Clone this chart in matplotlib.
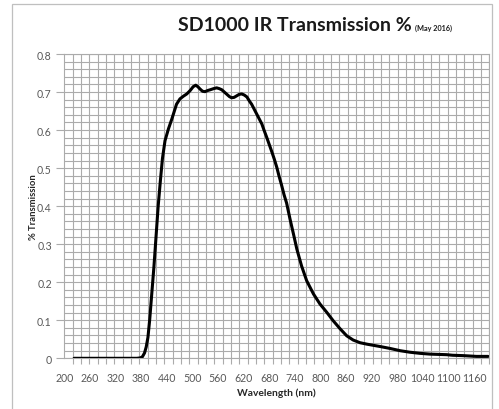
import numpy as np
import matplotlib
matplotlib.use("Agg")
import matplotlib.pyplot as plt
from matplotlib.patches import Rectangle

# wavelength (nm) and transmission
wavelength = [223, 300, 370, 378, 383, 388, 392, 396, 400, 405, 410, 415, 420, 425,
              430, 436, 444, 452, 463, 471, 479, 487, 495, 502, 508, 513, 518, 524, 530,
              536, 542, 550, 557, 563, 569, 575, 581, 587, 592, 598, 604, 610, 616, 622,
              628, 634, 639, 645, 651, 657, 663, 668, 674, 680, 686, 692, 698, 703, 709,
              715, 721, 729, 737, 745, 756, 768, 784, 799, 815, 830, 846, 862, 877, 893,
              910, 940, 963, 987, 1010, 1034, 1057, 1096, 1110, 1135, 1166, 1193]
transmission = [0.0, 0.0, 0.0, 0.001, 0.004, 0.014, 0.03, 0.055, 0.10, 0.17, 0.24, 0.32,
                0.40, 0.465, 0.525, 0.572, 0.603, 0.629, 0.668, 0.682, 0.689, 0.695,
                0.704, 0.714, 0.718, 0.714, 0.708, 0.702, 0.701, 0.704, 0.706, 0.709, 0.711,
                0.709, 0.706, 0.700, 0.694, 0.688, 0.685, 0.686, 0.690, 0.694, 0.695, 0.692,
                0.687, 0.676, 0.668, 0.655, 0.642, 0.629, 0.616, 0.600, 0.582, 0.563, 0.544,
                0.524, 0.502, 0.480, 0.456, 0.430, 0.408, 0.366, 0.327, 0.287, 0.243, 0.204,
                0.169, 0.143, 0.121, 0.099, 0.078, 0.059, 0.048, 0.041, 0.037, 0.031, 0.026,
                0.020, 0.016, 0.013, 0.011, 0.0095, 0.008, 0.007, 0.005, 0.005]

x_labels = [200, 260, 320, 380, 440, 500, 560, 620, 680, 740, 800, 860, 920, 980, 1040, 1100, 1160]
y_ticks = [0, 0.1, 0.2, 0.3, 0.4, 0.5, 0.6, 0.7, 0.8]
y_labels = ["0", "0.1", "0.2", "0.3", "0.4", "0.5", "0.6", "0.7", "0.8"]

XMIN, XMAX = 200, 1196
GRID = "#ababab"
TXT = "#595959"
FONT = "Lato"

fig = plt.figure(figsize=(4.99, 4.10), dpi=100)
fig.patches.append(Rectangle((12 / 499, -0.1), (492 - 12) / 499, 1.1 - 5 / 410,
                             transform=fig.transFigure, fill=False,
                             edgecolor="#bfbfbf", linewidth=0.9))
ax = fig.add_axes([64.3 / 499, 1 - 359.3 / 410, 425 / 499, 304.3 / 410])

ax.plot(wavelength, transmission, color="black", linewidth=2.2, solid_capstyle="round",
        solid_joinstyle="round", zorder=3)

ax.set_xlim(XMIN, XMAX)
ax.set_ylim(0, 0.8)

# category-style axis: labels every 60, grid/ticks on a finer spacing
ax.set_xticks(x_labels)
ax.set_xticklabels([str(v) for v in x_labels])
ax.set_xticks(np.linspace(XMIN, XMAX, 52), minor=True)
ax.set_yticks(y_ticks)
ax.set_yticklabels(y_labels)
ax.set_yticks(np.arange(0, 0.81, 0.02), minor=True)

ax.tick_params(axis="x", which="major", length=0, pad=10, labelsize=7.6, labelcolor=TXT)
ax.tick_params(axis="x", which="minor", length=4, width=0.8, color=GRID, direction="out")
ax.tick_params(axis="y", which="major", length=6, width=0.8, color=GRID, pad=3,
               labelsize=7.6, labelcolor=TXT)
ax.tick_params(axis="y", which="minor", length=0)
for lab in ax.get_xticklabels() + ax.get_yticklabels():
    lab.set_fontfamily(FONT)

ax.grid(True, axis="x", which="minor", color=GRID, linewidth=0.8)
ax.grid(True, axis="y", which="both", color=GRID, linewidth=0.8)
ax.set_axisbelow(True)
for s in ax.spines.values():
    s.set_color(GRID)
    s.set_linewidth(0.8)

ax.set_xlabel("Wavelength (nm)", fontfamily=FONT, fontweight="bold", fontsize=7.4,
              color="#262626", va="center")
ax.xaxis.set_label_coords(0.5, (359.3 - 393) / 304.3)
ax.set_ylabel("% Transmission", fontfamily=FONT, fontweight="bold", fontsize=6.8,
              color="#262626", va="center")
ax.yaxis.set_label_coords((33 - 64.3) / 425, (359.3 - 207) / 304.3)

fig.text(412 / 499, 1 - 31 / 410, "SD1000 IR Transmission %", ha="right", va="baseline",
         fontfamily=FONT, fontweight="bold", fontsize=14, color="#1a1a1a")
fig.text(415 / 499, 1 - 31 / 410, "(May 2016)", ha="left", va="baseline",
         fontfamily=FONT, fontweight="bold", fontsize=5.2, color="#1a1a1a")

fig.savefig("out.png", dpi=100)
